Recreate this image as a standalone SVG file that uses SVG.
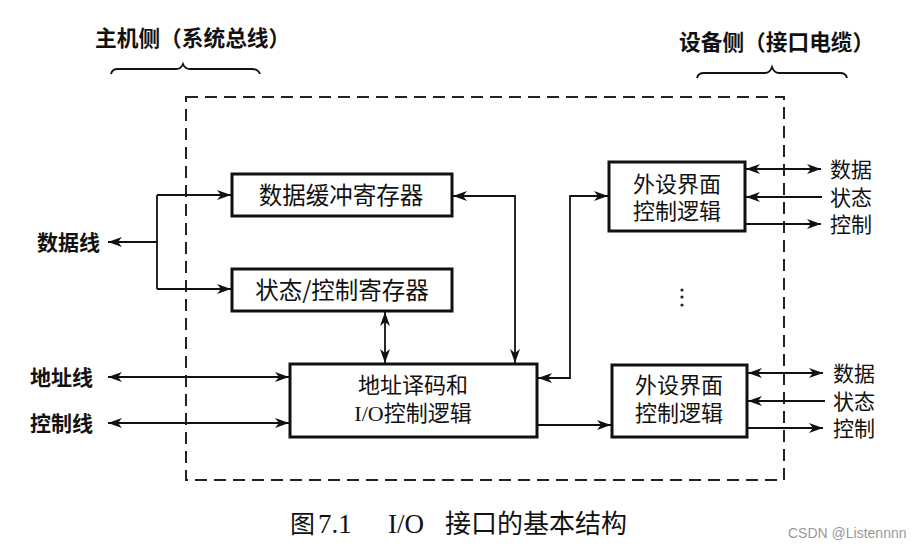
<svg xmlns="http://www.w3.org/2000/svg" width="923" height="547" viewBox="0 0 923 547">
<style>
.box{fill:#fff;stroke:#111;stroke-width:3}
.ln{fill:none;stroke:#111;stroke-width:1.8}
.t{font-family:"Noto Sans CJK SC","Liberation Sans",sans-serif;fill:#111;font-size:22px;text-anchor:middle}
.tw{font-family:"Noto Sans CJK SC","Liberation Sans",sans-serif;fill:#111;font-size:23.5px;text-anchor:middle}
.l{font-family:"Noto Sans CJK SC","Liberation Sans",sans-serif;fill:#111;font-size:21px;font-weight:bold}
.r{font-family:"Noto Sans CJK SC","Liberation Sans",sans-serif;fill:#111;font-size:21px}
</style>
<defs>
<marker id="ah" viewBox="0 0 14 10" refX="14" refY="5" markerWidth="14" markerHeight="10" markerUnits="userSpaceOnUse" orient="auto-start-reverse">
<path d="M0,0 L14,5 L0,10 L4,5 z" fill="#111"/>
</marker>
</defs>
<rect width="923" height="547" fill="#fff"/>
<g id="headers">
<text class="l" x="95" y="46" style="font-size:21.7px">主机侧（系统总线）</text>
<text class="l" x="679" y="50" style="font-size:21.7px">设备侧（接口电缆）</text>
<path class="ln" d="M111,74 Q112,69 118,69 L176,69 Q181,69 183,64 Q185,69 190,69 L252,69 Q258,69 260,74"/>
<path class="ln" d="M697,78 Q698,73 704,73 L765,73 Q770,73 772,67 Q774,73 779,73 L840,73 Q846,73 847,78"/>
</g>
<g id="boundary">
<rect x="186" y="97" width="598" height="383" fill="none" stroke="#222" stroke-width="2" stroke-dasharray="12,7"/>
</g>
<g id="connectors">
<path class="ln" d="M157,242 L108,242" marker-end="url(#ah)"/>
<path class="ln" d="M157,195 L157,289"/>
<path class="ln" d="M157,195 L231,195" marker-end="url(#ah)"/>
<path class="ln" d="M157,289 L231,289" marker-end="url(#ah)"/>
<path class="ln" d="M385,312 L385,363" marker-start="url(#ah)" marker-end="url(#ah)"/>
<path class="ln" d="M453,196 L515,196 L515,363" marker-start="url(#ah)" marker-end="url(#ah)"/>
<path class="ln" d="M538,378 L570,378 L570,196 L608,196" marker-start="url(#ah)" marker-end="url(#ah)"/>
<path class="ln" d="M108,377 L289,377" marker-start="url(#ah)" marker-end="url(#ah)"/>
<path class="ln" d="M108,423 L289,423" marker-start="url(#ah)" marker-end="url(#ah)"/>
<path class="ln" d="M538,425 L611,425" marker-end="url(#ah)"/>
<path class="ln" d="M746,169 L821,169" marker-start="url(#ah)" marker-end="url(#ah)"/>
<path class="ln" d="M822,197 L746,197" marker-end="url(#ah)"/>
<path class="ln" d="M746,224 L821,224" marker-end="url(#ah)"/>
<path class="ln" d="M748,373 L823,373" marker-start="url(#ah)" marker-end="url(#ah)"/>
<path class="ln" d="M825,401 L748,401" marker-end="url(#ah)"/>
<path class="ln" d="M748,428 L823,428" marker-end="url(#ah)"/>
</g>
<g id="labels-left">
<text class="l" x="37" y="250">数据线</text>
<text class="l" x="30" y="385">地址线</text>
<text class="l" x="30" y="431">控制线</text>
</g>
<g id="data-buffer">
<rect class="box" x="232" y="174" width="220" height="42"/>
<text class="tw" x="341" y="204">数据缓冲寄存器</text>
</g>
<g id="status-control">
<rect class="box" x="232" y="269" width="220" height="42"/>
<text class="tw" x="342" y="299">状态/控制寄存器</text>
</g>
<g id="addr-decode">
<rect class="box" x="290" y="364" width="247" height="73"/>
<text class="t" x="413" y="393">地址译码和</text>
<text class="t" x="413" y="421"><tspan font-family="Liberation Serif">I/O</tspan>控制逻辑</text>
</g>
<g id="periph-top">
<rect class="box" x="609" y="162" width="136" height="69"/>
<text class="t" x="677" y="192">外设界面</text>
<text class="t" x="677" y="219">控制逻辑</text>
</g>
<g id="periph-bottom">
<rect class="box" x="612" y="365" width="135" height="72"/>
<text class="t" x="679" y="393">外设界面</text>
<text class="t" x="679" y="421">控制逻辑</text>
</g>
<g id="labels-right">
<text class="r" x="830" y="177">数据</text>
<text class="r" x="830" y="205">状态</text>
<text class="r" x="830" y="232">控制</text>
<text class="r" x="833" y="381">数据</text>
<text class="r" x="833" y="409">状态</text>
<text class="r" x="833" y="436">控制</text>
</g>
<g id="dots" fill="#222">
<circle cx="682" cy="290" r="1.6"/>
<circle cx="682" cy="297" r="1.6"/>
<circle cx="682" cy="305" r="1.6"/>
</g>
<g id="caption">
<text x="290" y="533" font-family="Noto Sans CJK SC, sans-serif" font-size="25" fill="#111">图</text>
<text x="318" y="533" font-family="Liberation Serif, serif" font-size="27" fill="#111">7.1</text>
<text x="388" y="533" font-family="Liberation Serif, serif" font-size="27" fill="#111">I/O</text>
<text x="445" y="533" font-family="Noto Sans CJK SC, sans-serif" font-size="26" fill="#111">接口的基本结构</text>
</g>
<text x="788" y="538" font-family="Liberation Sans, sans-serif" font-size="14" fill="#999">CSDN @Listennnn</text>
</svg>
